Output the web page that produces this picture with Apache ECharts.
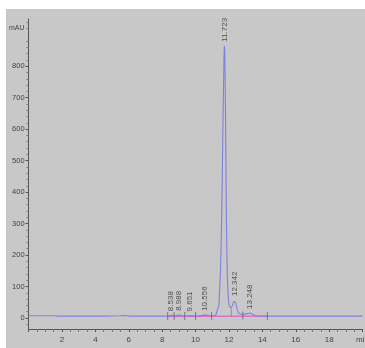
<!DOCTYPE html>
<html>
<head>
<meta charset="utf-8">
<script src="https://cdn.jsdelivr.net/npm/echarts@6/dist/echarts.min.js"></script>
<style>
html,body{margin:0;padding:0;background:#fff;overflow:hidden;width:365px;height:348px;}
#chart{position:absolute;left:6px;top:9px;width:366px;height:339px;}
</style>
</head>
<body>
<div id="chart"></div>
<script>
// Chromatogram trace (time in min, signal in mAU)
const traceTime = [0, 0.5, 1.0, 1.5, 1.8, 2.5, 3.5, 4.5, 5.5, 5.8, 6.1, 6.5, 7.0, 7.5, 8.0, 8.4, 8.54, 8.7, 8.85, 8.99, 9.2, 9.4, 9.65, 9.9, 10.2, 10.56, 10.8, 11.0, 11.2, 11.3, 11.4, 11.5, 11.55, 11.6, 11.65, 11.7, 11.723, 11.75, 11.8, 11.85, 11.9, 11.95, 12.0, 12.1, 12.15, 12.2, 12.28, 12.342, 12.4, 12.5, 12.6, 12.8, 13.0, 13.248, 13.4, 13.6, 14.0, 14.5, 15, 16, 17, 18, 19, 20];
const traceValue = [7, 7, 7, 7, 6, 6, 6, 6, 7, 8, 6, 6, 6, 6, 6, 6, 9, 7, 6, 10, 7, 5, 8, 6, 7, 10, 8, 7, 8, 13, 40, 160, 280, 450, 650, 820, 865, 850, 620, 300, 140, 70, 42, 31, 30, 38, 52, 57, 50, 25, 14, 11, 13, 16, 12, 7, 6, 6, 6, 6, 6, 6, 6, 6];

// Peak annotations (retention time labels)
const peakTimes = [8.538, 8.988, 9.651, 10.556, 11.723, 12.342, 13.248];
const peakLabels = ['8.538', '8.988', '9.651', '10.556', '11.723', '12.342', '13.248'];
const peakHeights = [9, 10, 8, 10, 865, 57, 16];

// Integration baseline and event marks
const baselineTime = [8.33, 14.3];
const baselineValue = [5, 6];
const dropTime = [12.14, 12.14];
const dropValue = [5, 30];
const eventTimes = [8.33, 8.72, 9.35, 10.0, 10.96, 12.83, 14.3];
const eventValues = [6, 6, 6, 6, 7, 8, 6];

// Axis ticks
const yTickValues = [0, 100, 200, 300, 400, 500, 600, 700, 800];
const yMinorValues = [];
for (let v = -20; v <= 940; v += 20) { if (v % 100 !== 0) yMinorValues.push(v); }

const chart = echarts.init(document.getElementById('chart'));
const font = 'Liberation Sans';
const axisColor = '#555';

chart.setOption({
  backgroundColor: '#c8c8c8',
  animation: false,
  grid: {left: 19.5, right: 4.2, top: 10, bottom: 19, containLabel: false},
  xAxis: {
    type: 'value', min: 0, max: 20, interval: 2,
    axisLine: {onZero: false, lineStyle: {color: axisColor, width: 1}},
    axisTick: {length: 3, lineStyle: {color: axisColor}},
    minorTick: {show: true, splitNumber: 4, length: 3, lineStyle: {color: '#777'}},
    splitLine: {show: false},
    axisLabel: {
      fontFamily: font, fontSize: 8, color: '#444', margin: 7,
      showMinLabel: true, showMaxLabel: true,
      formatter: v => v === 0 ? '' : (v === 20 ? 'min' : String(v))
    }
  },
  yAxis: [{
    type: 'value', min: -35, max: 950,
    name: 'mAU', nameLocation: 'end', nameGap: -9,
    nameTextStyle: {fontFamily: font, fontSize: 7, color: '#444', align: 'right', verticalAlign: 'middle', padding: [0, 4, 0, 0]},
    axisLine: {lineStyle: {color: axisColor, width: 1}},
    axisTick: {customValues: yTickValues, length: 3, lineStyle: {color: axisColor}},
    axisLabel: {customValues: yTickValues, fontFamily: font, fontSize: 7.5, color: '#444', margin: 4},
    splitLine: {show: false}
  }, {
    type: 'value', min: -35, max: 950, position: 'left',
    axisLine: {show: false},
    axisTick: {customValues: yMinorValues, length: 2, lineStyle: {color: '#777'}},
    axisLabel: {show: false},
    splitLine: {show: false}
  }],
  series: [
    {
      type: 'line', name: 'baseline', symbol: 'none', silent: true,
      data: baselineTime.map((t, i) => [t, baselineValue[i]]),
      lineStyle: {color: '#e060c8', width: 1.2}, z: 2
    },
    {
      type: 'line', name: 'drop', symbol: 'none', silent: true,
      data: dropTime.map((t, i) => [t, dropValue[i]]),
      lineStyle: {color: '#e060c8', width: 1}, z: 2
    },
    {
      type: 'line', name: 'trace', symbol: 'none', silent: true,
      data: traceTime.map((t, i) => [t, traceValue[i]]),
      lineStyle: {color: '#8080e0', width: 1.1}, z: 3
    },
    {
      type: 'scatter', name: 'events', silent: true,
      symbol: 'rect', symbolSize: [1, 8],
      itemStyle: {color: '#666'},
      data: eventTimes.map((t, i) => [t, eventValues[i]]), z: 4
    },
    {
      type: 'scatter', name: 'peaks', silent: true,
      symbolSize: 0,
      data: peakTimes.map((t, i) => ({value: [t, peakHeights[i]], name: peakLabels[i]})),
      label: {
        show: true, position: 'top', distance: 4, rotate: 90,
        align: 'left', verticalAlign: 'middle',
        formatter: p => p.name,
        fontFamily: 'Liberation Sans', fontSize: 8, color: '#333'
      }, z: 5
    }
  ]
});
</script>
</body>
</html>
